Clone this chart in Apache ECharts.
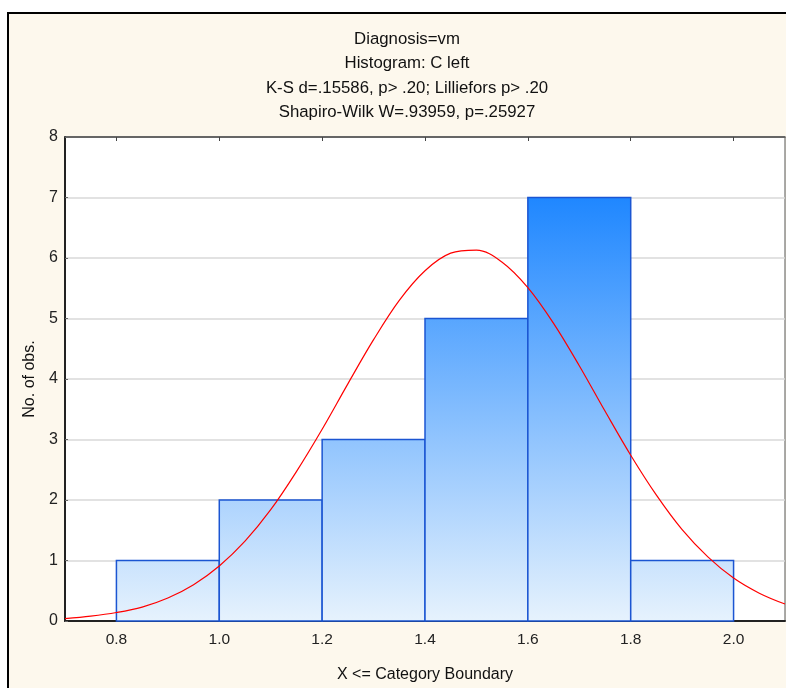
<!DOCTYPE html>
<html>
<head>
<meta charset="utf-8">
<script src="https://cdn.jsdelivr.net/npm/echarts@6/dist/echarts.min.js"></script>
<style>
  html, body { margin: 0; padding: 0; background: #ffffff; }
  #wrap { position: relative; width: 786px; height: 688px; overflow: hidden; }
  #frame { position: absolute; left: 7px; top: 12px; width: 900px; height: 800px;
           box-sizing: border-box; border: 2.5px solid #000; background: #fdf8ed; }
  #chart { position: absolute; left: 0; top: 0; width: 786px; height: 688px; }
</style>
</head>
<body>
<div id="wrap">
  <div id="frame"></div>
  <div id="chart"></div>
</div>
<script>
// Histogram bins (upper boundaries are inclusive) and observation counts
const binEdges = [0.8, 1.0, 1.2, 1.4, 1.6, 1.8, 2.0];
const counts = [1, 2, 3, 5, 7, 1];

// Tick positions
const xTicks = [0.8, 1.0, 1.2, 1.4, 1.6, 1.8, 2.0];
const yTicks = [0, 1, 2, 3, 4, 5, 6, 7, 8];

// Fitted normal curve (expected counts per bin)
const curveX = [0.70, 0.75, 0.80, 0.85, 0.90, 0.95, 1.00, 1.05, 1.10, 1.15,
                1.20, 1.25, 1.30, 1.35, 1.40, 1.45, 1.50, 1.55, 1.60, 1.65,
                1.70, 1.75, 1.80, 1.85, 1.90, 1.95, 2.00, 2.05, 2.10];
const curveY = [0.04, 0.08, 0.14, 0.23, 0.38, 0.60, 0.91, 1.32, 1.84, 2.47,
                3.17, 3.92, 4.65, 5.30, 5.79, 6.08, 6.13, 5.93, 5.51, 4.92,
                4.22, 3.47, 2.74, 2.08, 1.51, 1.06, 0.71, 0.46, 0.28];

const titleLines = [
  'Diagnosis=vm',
  'Histogram: C left',
  'K-S d=.15586, p> .20; Lilliefors p> .20',
  'Shapiro-Wilk W=.93959, p=.25927'
];

const FONT = "'Liberation Sans', Arial, sans-serif";

const barData = counts.map((c, i) => [binEdges[i], binEdges[i + 1], c]);
const curveData = curveX.map((x, i) => [x, curveY[i]]);

function renderBar(params, api) {
  const lo = api.value(0), hi = api.value(1), n = api.value(2);
  const pTop = api.coord([lo, n]);
  const pBase = api.coord([hi, 0]);
  const gTop = api.coord([lo, 7])[1];
  const fill = new echarts.graphic.LinearGradient(0, gTop, 0, pBase[1], [
    { offset: 0, color: '#1f87ff' },
    { offset: 1, color: '#e6f2fd' }
  ], true);
  return {
    type: 'rect',
    shape: { x: pTop[0], y: pTop[1], width: pBase[0] - pTop[0], height: pBase[1] - pTop[1] },
    style: { fill: fill, stroke: '#1b55d2', lineWidth: 1.5 }
  };
}

const chart = echarts.init(document.getElementById('chart'), null, { renderer: 'canvas' });
chart.setOption({
  animation: false,
  backgroundColor: 'transparent',
  title: {
    text: titleLines.join('\n'),
    left: 402,
    top: 22,
    textAlign: 'center',
    textStyle: { fontFamily: FONT, fontSize: 16.8, fontWeight: 'normal', color: '#111', lineHeight: 24.5 }
  },
  grid: {
    left: 65, right: 1, top: 137, bottom: 66,
    show: true, backgroundColor: '#ffffff', borderColor: '#555', borderWidth: 1
  },
  xAxis: [
    {
      type: 'value', min: 0.7, max: 2.1, position: 'bottom',
      name: 'X <= Category Boundary', nameLocation: 'middle', nameGap: 46,
      nameTextStyle: { fontFamily: FONT, fontSize: 16, color: '#111' },
      axisLine: { show: true, onZero: false, lineStyle: { color: '#222', width: 2 } },
      axisTick: { show: true, inside: true, length: 4, customValues: xTicks, lineStyle: { color: '#222', width: 1 } },
      axisLabel: { show: true, customValues: xTicks, margin: 11, fontFamily: FONT, fontSize: 15.5, color: '#222',
                   formatter: v => v.toFixed(1) },
      splitLine: { show: false }
    },
    {
      type: 'value', min: 0.7, max: 2.1, position: 'top',
      axisLine: { show: true, onZero: false, lineStyle: { color: '#444', width: 1.5 } },
      axisTick: { show: true, inside: true, length: 4, customValues: xTicks, lineStyle: { color: '#444', width: 1 } },
      axisLabel: { show: false },
      splitLine: { show: false }
    }
  ],
  yAxis: {
    type: 'value', min: 0, max: 8, interval: 1,
    name: 'No. of obs.', nameLocation: 'middle', nameGap: 27, nameRotate: 90,
    nameTextStyle: { fontFamily: FONT, fontSize: 16, color: '#111' },
    axisLine: { show: true, onZero: false, lineStyle: { color: '#222', width: 2 } },
    axisTick: { show: true, inside: true, length: 3, lineStyle: { color: '#666', width: 1 } },
    axisLabel: { margin: 7, fontFamily: FONT, fontSize: 16, color: '#222',
                 formatter: v => (yTicks.indexOf(v) >= 0 ? String(v) : '') },
    splitLine: { show: true, lineStyle: { color: '#d8d8d8', width: 1.5 } }
  },
  series: [
    {
      type: 'custom',
      xAxisIndex: 0,
      renderItem: renderBar,
      encode: { x: [0, 1], y: 2 },
      data: barData,
      z: 2
    },
    {
      type: 'line',
      xAxisIndex: 0,
      data: curveData,
      smooth: 0.35,
      showSymbol: false,
      lineStyle: { color: '#ff0000', width: 1.2 },
      z: 3
    }
  ]
});
</script>
</body>
</html>
